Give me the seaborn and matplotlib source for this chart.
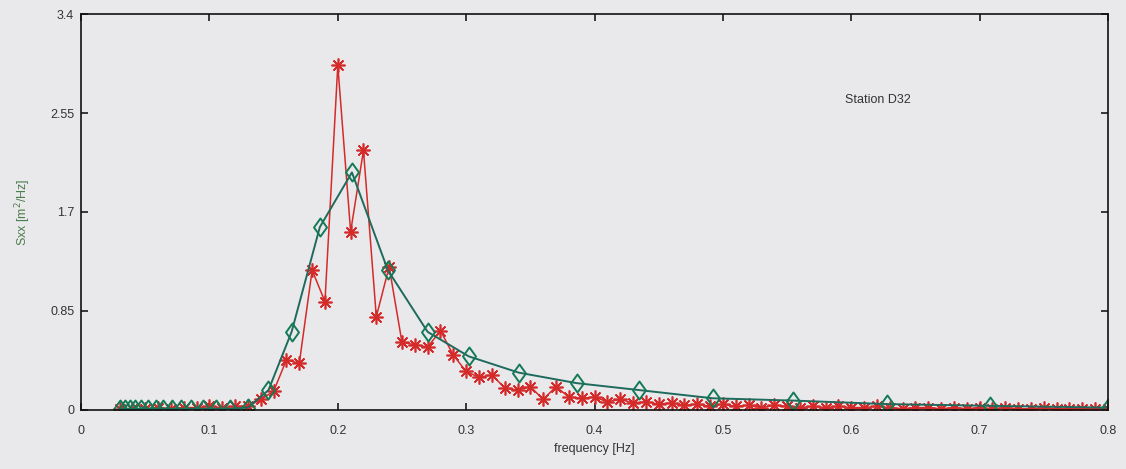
import numpy as np
import pandas as pd
import matplotlib
matplotlib.use("Agg")
import matplotlib.pyplot as plt
from matplotlib.path import Path
import seaborn as sns

# Raw spectrum (0.01 Hz resolution)
raw_freq = [round(0.03 + 0.01 * i, 2) for i in range(78)]
raw_sxx = [
    0.01, 0.01, 0.01, 0.02, 0.01, 0.02, 0.02, 0.03, 0.02, 0.03,   # 0.03-0.12
    0.03, 0.09, 0.16, 0.43, 0.40, 1.20, 0.93, 2.96, 1.53, 2.23,   # 0.13-0.22
    0.80, 1.23, 0.58, 0.56, 0.54, 0.68, 0.47, 0.33, 0.28, 0.30,   # 0.23-0.32
    0.19, 0.17, 0.20, 0.09, 0.20, 0.11, 0.10, 0.11, 0.07, 0.09,   # 0.33-0.42
    0.06, 0.07, 0.05, 0.06, 0.04, 0.05, 0.03, 0.05, 0.03, 0.04,   # 0.43-0.52
    0.02, 0.04, 0.03, 0.02, 0.03, 0.02, 0.03, 0.02, 0.02, 0.03,   # 0.53-0.62
    0.02, 0.01, 0.02, 0.02, 0.01, 0.02, 0.01, 0.02, 0.01, 0.02,   # 0.63-0.72
    0.01, 0.01, 0.02, 0.01, 0.01, 0.01, 0.01, 0.01,               # 0.73-0.80
]

# Band-averaged spectrum
band_freq = [0.030, 0.034, 0.038, 0.042, 0.047, 0.052, 0.058, 0.064,
             0.071, 0.078, 0.086, 0.095, 0.105, 0.116, 0.130, 0.146,
             0.164, 0.186, 0.211, 0.239, 0.270, 0.302, 0.341, 0.386,
             0.435, 0.492, 0.555, 0.628, 0.708, 0.800]
band_sxx = [0.01, 0.01, 0.01, 0.01, 0.01, 0.01, 0.01, 0.01,
            0.01, 0.01, 0.01, 0.01, 0.01, 0.01, 0.02, 0.17,
            0.67, 1.57, 2.04, 1.20, 0.67, 0.46, 0.32, 0.23,
            0.17, 0.10, 0.08, 0.05, 0.035, 0.02]

x_ticks = [0, 0.1, 0.2, 0.3, 0.4, 0.5, 0.6, 0.7, 0.8]
x_tick_labels = ["0", "0.1", "0.2", "0.3", "0.4", "0.5", "0.6", "0.7", "0.8"]
y_ticks = [0, 0.85, 1.7, 2.55, 3.4]
y_tick_labels = ["0", "0.85", "1.7", "2.55", "3.4"]

raw = pd.DataFrame({"freq": raw_freq, "sxx": raw_sxx})
band = pd.DataFrame({"freq": band_freq, "sxx": band_sxx})

# slightly tall open diamond
diamond = Path([(0, 1), (0.72, 0), (0, -1), (-0.72, 0), (0, 1)],
               [Path.MOVETO, Path.LINETO, Path.LINETO, Path.LINETO,
                Path.CLOSEPOLY])

sns.set_theme(style="ticks")
bg = "#e9e9ec"
plt.rcParams.update({
    "figure.facecolor": bg,
    "axes.facecolor": bg,
    "axes.edgecolor": "#111111",
    "axes.linewidth": 1.2,
    "xtick.direction": "in",
    "ytick.direction": "in",
    "xtick.top": True,
    "ytick.right": True,
    "xtick.major.size": 5,
    "ytick.major.size": 5,
    "xtick.color": "#222222",
    "ytick.color": "#222222",
})
plt.rcParams["font.family"] = ["Liberation Sans", "DejaVu Sans"]

fig = plt.figure(figsize=(11.26, 4.69), dpi=100)
ax = fig.add_axes([0.072, 0.126, 0.912, 0.844])

sns.lineplot(data=raw, x="freq", y="sxx", ax=ax, color="#d42a2a",
             linewidth=1.1, marker=(8, 2, 0), markersize=10,
             markeredgewidth=1.2, markeredgecolor="#d42a2a")
sns.lineplot(data=band, x="freq", y="sxx", ax=ax, color="#1e6a5c",
             linewidth=1.4, marker=diamond, markersize=13,
             markerfacecolor="none", markeredgewidth=1.4,
             markeredgecolor="#137a55")

ax.set_xlim(0, 0.8)
ax.set_ylim(0, 3.4)
ax.set_xticks(x_ticks)
ax.set_xticklabels(x_tick_labels, fontsize=9, color="#333333")
ax.set_yticks(y_ticks)
ax.set_yticklabels(y_tick_labels, fontsize=9, color="#333333")
ax.tick_params(axis="x", pad=11)
ax.tick_params(axis="y", pad=5)

ax.set_xlabel("frequency [Hz]", fontsize=9, color="#333333", labelpad=4)
ax.set_ylabel("Sxx [m$^2$/Hz]", fontsize=9, color="#4c7d4c", labelpad=12)

ax.text(0.595, 2.66, "Station D32", fontsize=9, color="#333333",
        ha="left", va="center")

for side in ["top", "right", "bottom", "left"]:
    ax.spines[side].set_visible(True)

fig.savefig("out.png", dpi=100, facecolor=bg)
